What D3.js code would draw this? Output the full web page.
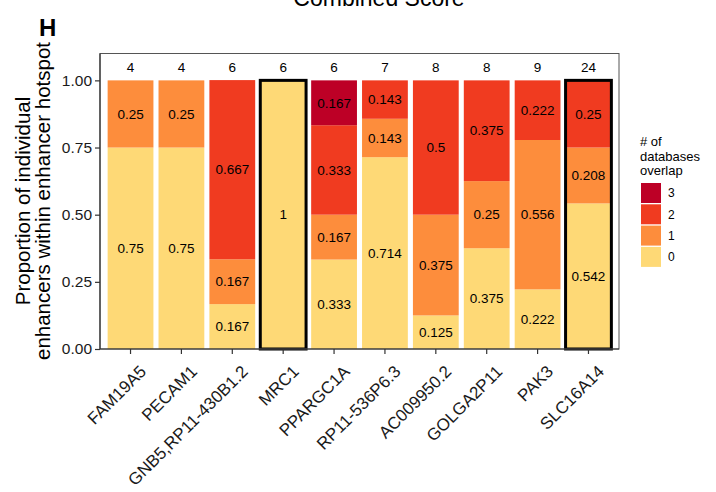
<!DOCTYPE html>
<html>
<head>
<meta charset="utf-8">
<script src="https://cdn.jsdelivr.net/npm/d3@7"></script>
<style>
  html, body { margin: 0; padding: 0; background: #fff; }
  svg { display: block; font-family: "Liberation Sans", Arial, Helvetica, sans-serif; }
</style>
</head>
<body>
<svg id="chart" width="716" height="492"></svg>
<script>
// Genes (x categories), number of enhancers per hotspot, and the proportion
// of enhancers falling in each "# of databases overlap" class.
const genes = ["FAM19A5", "PECAM1", "GNB5,RP11-430B1.2", "MRC1", "PPARGC1A",
               "RP11-536P6.3", "AC009950.2", "GOLGA2P11", "PAK3", "SLC16A14"];
const enhancerCounts = [4, 4, 6, 6, 6, 7, 8, 8, 9, 24];
const overlap0 = [0.75, 0.75, 0.167, 1, 0.333, 0.714, 0.125, 0.375, 0.222, 0.542];
const overlap1 = [0.25, 0.25, 0.167, 0, 0.167, 0.143, 0.375, 0.25, 0.556, 0.208];
const overlap2 = [0, 0, 0.667, 0, 0.333, 0.143, 0.5, 0.375, 0.222, 0.25];
const overlap3 = [0, 0, 0, 0, 0.167, 0, 0, 0, 0, 0];
const overlapClasses = ["0", "1", "2", "3"];
const classColors = ["#FED976", "#FD8D3C", "#F03B20", "#BD0026"];
const highlightedGenes = ["MRC1", "SLC16A14"];
const yTicks = [0, 0.25, 0.5, 0.75, 1];
const yTickLabels = ["0.00", "0.25", "0.50", "0.75", "1.00"];

const svg = d3.select("#chart");

const panel = { left: 100, right: 619, top: 53.5, bottom: 349 };

const x = d3.scaleBand()
  .domain(genes)
  .range([panel.left, panel.right])
  .paddingInner(0.1)
  .paddingOuter(0.15);

const y = d3.scaleLinear()
  .domain([0, 1.1])
  .range([panel.bottom, panel.top]);

const color = d3.scaleOrdinal().domain(overlapClasses).range(classColors);

// Table for stacking
const rows = genes.map((g, i) => ({
  gene: g, "0": overlap0[i], "1": overlap1[i], "2": overlap2[i], "3": overlap3[i]
}));
const series = d3.stack().keys(overlapClasses)(rows);

// Title and panel tag
svg.append("text")
  .attr("x", 379).attr("y", 6)
  .attr("text-anchor", "middle")
  .style("font-size", "23px").style("fill", "#000")
  .text("Combined Score");

svg.append("text")
  .attr("x", 39).attr("y", 36)
  .style("font-size", "24px").style("font-weight", "bold")
  .text("H");

// Stacked bar segments
const layer = svg.append("g");
series.forEach(s => {
  layer.selectAll(null)
    .data(s.filter(d => d[1] - d[0] > 0))
    .join("rect")
    .attr("x", d => x(d.data.gene))
    .attr("width", x.bandwidth())
    .attr("y", d => y(d[1]))
    .attr("height", d => y(d[0]) - y(d[1]))
    .attr("fill", color(s.key));
});

// Segment value labels
series.forEach(s => {
  layer.selectAll(null)
    .data(s.filter(d => d[1] - d[0] > 0))
    .join("text")
    .attr("x", d => x(d.data.gene) + x.bandwidth() / 2)
    .attr("y", d => y((d[0] + d[1]) / 2))
    .attr("dy", "0.35em")
    .attr("text-anchor", "middle")
    .style("font-size", "13.5px").style("fill", "#000")
    .text(d => String(d.data[s.key]));
});

// Outline around highlighted genes
svg.append("g").selectAll("rect")
  .data(highlightedGenes)
  .join("rect")
  .attr("x", g => x(g))
  .attr("width", x.bandwidth())
  .attr("y", y(1))
  .attr("height", y(0) - y(1))
  .attr("fill", "none")
  .attr("stroke", "#000")
  .attr("stroke-width", 3);

// Enhancer counts above bars
svg.append("g").selectAll("text")
  .data(genes)
  .join("text")
  .attr("x", g => x(g) + x.bandwidth() / 2)
  .attr("y", y(1.05))
  .attr("dy", "0.35em")
  .attr("text-anchor", "middle")
  .style("font-size", "13.5px").style("fill", "#000")
  .text((g, i) => enhancerCounts[i]);

// Panel border
svg.append("rect")
  .attr("x", panel.left).attr("y", panel.top)
  .attr("width", panel.right - panel.left)
  .attr("height", panel.bottom - panel.top)
  .attr("fill", "none").attr("stroke", "#555").attr("stroke-width", 1);

// Axes
const yAxis = svg.append("g")
  .attr("transform", `translate(${panel.left},0)`)
  .call(d3.axisLeft(y).tickValues(yTicks)
    .tickFormat((d, i) => yTickLabels[i]).tickSize(5).tickPadding(3));
const xAxis = svg.append("g")
  .attr("transform", `translate(0,${panel.bottom})`)
  .call(d3.axisBottom(x).tickSize(5).tickPadding(3));

[yAxis, xAxis].forEach(a => {
  a.select(".domain").attr("stroke", "#333").attr("stroke-width", 1.2);
  a.selectAll(".tick line").attr("stroke", "#333").attr("stroke-width", 1.2);
  a.selectAll(".tick text")
    .style("font-family", "'Liberation Sans', Arial, sans-serif")
    .style("fill", "#1a1a1a");
});
yAxis.selectAll(".tick text").style("font-size", "15.5px");
yAxis.select(".domain").attr("d", `M0,${panel.bottom}V${panel.top}`);
xAxis.select(".domain").attr("d", `M${panel.left},0H${panel.right}`);

xAxis.selectAll(".tick text")
  .style("font-size", "17px")
  .attr("x", 0).attr("y", 0).attr("dy", "0.72em")
  .attr("transform", "translate(8,15) rotate(-45)")
  .style("text-anchor", "end");

// Y axis title (two lines)
const yTitle = svg.append("text")
  .attr("transform", `translate(0,201) rotate(-90)`)
  .attr("text-anchor", "middle")
  .style("font-size", "20.5px").style("fill", "#000");
yTitle.append("tspan").attr("x", 0).attr("y", 30).text("Proportion of individual");
yTitle.append("tspan").attr("x", 0).attr("y", 50).text("enhancers within enhancer hotspot");

// Legend
const legend = svg.append("g").attr("transform", "translate(640,0)");
["# of", "databases", "overlap"].forEach((t, i) => {
  legend.append("text")
    .attr("x", 0).attr("y", 146 + i * 14.5)
    .style("font-size", "13px").style("fill", "#000")
    .text(t);
});
const legendClasses = overlapClasses.slice().reverse();
legend.selectAll("rect.key")
  .data(legendClasses)
  .join("rect")
  .attr("class", "key")
  .attr("x", 1).attr("y", (d, i) => 183 + i * 21.3)
  .attr("width", 20).attr("height", 20)
  .attr("fill", d => color(d));
legend.selectAll("text.lab")
  .data(legendClasses)
  .join("text")
  .attr("class", "lab")
  .attr("x", 28).attr("y", (d, i) => 183 + i * 21.3 + 10)
  .attr("dy", "0.35em")
  .style("font-size", "12px").style("fill", "#000")
  .text(d => d);
</script>
</body>
</html>
